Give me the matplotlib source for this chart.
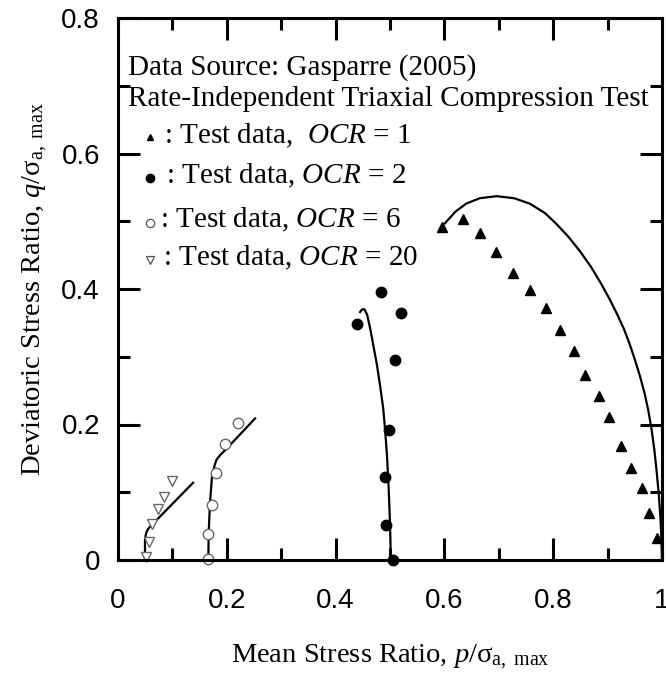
import matplotlib
matplotlib.use("Agg")
import matplotlib.pyplot as plt

plt.rcParams['font.family'] = ['Liberation Serif', 'DejaVu Serif']
plt.rcParams['mathtext.fontset'] = 'custom'
plt.rcParams['mathtext.rm'] = 'Liberation Serif'
plt.rcParams['mathtext.it'] = 'Liberation Serif:italic'
plt.rcParams['mathtext.bf'] = 'Liberation Serif:bold'

# ---- test data ----
ocr1_p = [0.596, 0.634, 0.665, 0.694, 0.727, 0.757, 0.786, 0.813, 0.839, 0.858, 0.884, 0.903, 0.925, 0.943, 0.964, 0.976, 0.991]
ocr1_q = [0.491, 0.503, 0.482, 0.454, 0.423, 0.399, 0.372, 0.339, 0.309, 0.273, 0.242, 0.211, 0.169, 0.136, 0.106, 0.070, 0.032]

ocr2_p = [0.439, 0.484, 0.520, 0.509, 0.498, 0.491, 0.493, 0.506]
ocr2_q = [0.348, 0.396, 0.365, 0.295, 0.192, 0.122, 0.051, 0.000]

ocr6_p = [0.166, 0.166, 0.172, 0.180, 0.197, 0.221]
ocr6_q = [0.002, 0.039, 0.081, 0.129, 0.171, 0.202]

ocr20_p = [0.051, 0.057, 0.062, 0.074, 0.085, 0.099]
ocr20_q = [0.005, 0.027, 0.053, 0.076, 0.093, 0.116]

# ---- model curves ----
m1_p = [0.601, 0.620, 0.640, 0.665, 0.696, 0.728, 0.757, 0.785, 0.806, 0.828, 0.849, 0.870, 0.888, 0.905,
        0.918, 0.930, 0.940, 0.950, 0.960, 0.968, 0.975, 0.981, 0.986, 0.990, 0.994, 0.997, 0.999, 1.000]
m1_q = [0.497, 0.514, 0.526, 0.534, 0.537, 0.534, 0.526, 0.512, 0.496, 0.477, 0.456, 0.432, 0.408, 0.383,
        0.362, 0.341, 0.320, 0.296, 0.270, 0.246, 0.220, 0.192, 0.162, 0.132, 0.098, 0.064, 0.030, 0.000]

m2_p = [0.445, 0.449, 0.453, 0.458, 0.464, 0.470, 0.476, 0.482, 0.4875, 0.491, 0.4945, 0.497, 0.499, 0.5005, 0.5015]
m2_q = [0.366, 0.370, 0.370, 0.362, 0.340, 0.314, 0.288, 0.256, 0.224, 0.192, 0.154, 0.115, 0.077, 0.038, 0.000]

m6_p = [0.166, 0.1667, 0.169, 0.1728, 0.177, 0.181, 0.189, 0.197, 0.252]
m6_q = [0.000, 0.039, 0.084, 0.123, 0.138, 0.148, 0.156, 0.162, 0.209]

m20_p = [0.0496, 0.0496, 0.0510, 0.0527, 0.0555, 0.0588, 0.138]
m20_q = [0.000, 0.0295, 0.037, 0.042, 0.046, 0.049, 0.114]

x_ticks = [0, 0.2, 0.4, 0.6, 0.8, 1]
x_ticklabels = ['0', '0.2', '0.4', '0.6', '0.8', '1']
y_ticks = [0, 0.2, 0.4, 0.6, 0.8]
y_ticklabels = ['0', '0.2', '0.4', '0.6', '0.8']

fig = plt.figure(figsize=(6.66, 6.81), dpi=100)
ax = fig.add_axes([118/666, 1 - 560/681, (662-118)/666, (560-18)/681])

lw = 1.6
ax.plot(m1_p, m1_q, color='black', lw=lw, clip_on=False)
ax.plot(m2_p, m2_q, color='black', lw=lw, clip_on=False)
ax.plot(m6_p, m6_q, color='black', lw=lw, clip_on=False)
ax.plot(m20_p, m20_q, color='black', lw=lw, clip_on=False)

ax.plot(ocr1_p, ocr1_q, linestyle='none', marker='^', ms=6.5, color='black', clip_on=False)
ax.plot(ocr2_p, ocr2_q, linestyle='none', marker='o', ms=7.5, color='black', clip_on=False)
ax.plot(ocr6_p, ocr6_q, linestyle='none', marker='o', ms=7.5, mfc='white', mec='#666666', mew=1.0, clip_on=False)
ax.plot(ocr20_p, ocr20_q, linestyle='none', marker='v', ms=7.5, mfc='white', mec='#666666', mew=1.0, clip_on=False)

ax.set_xlim(0, 1)
ax.set_ylim(0, 0.8)
ax.set_xticks(x_ticks)
ax.set_xticklabels(x_ticklabels)
ax.set_yticks(y_ticks)
ax.set_yticklabels(y_ticklabels)
ax.set_xticks([0.1, 0.3, 0.5, 0.7, 0.9], minor=True)
ax.set_yticks([0.1, 0.3, 0.5, 0.7], minor=True)

for s in ax.spines.values():
    s.set_linewidth(2.2)
ax.tick_params(which='both', direction='in', top=True, right=True, width=2.2)
ax.tick_params(which='major', length=16)
ax.tick_params(which='minor', length=8.5)
ax.tick_params(axis='x', which='major', pad=20)
ax.tick_params(axis='y', which='major', pad=13)
for lab in ax.get_xticklabels() + ax.get_yticklabels():
    lab.set_fontfamily('Liberation Sans')
    lab.set_fontsize(20)

ax.set_xlabel(r'Mean Stress Ratio, $p$/σ$_{\mathrm{a,\ max}}$', fontsize=20.5, labelpad=21)
ax.set_ylabel(r'Deviatoric Stress Ratio, $q$/σ$_{\mathrm{a,\ max}}$', fontsize=20.5, labelpad=8)

# annotation block
def ax_pos(px, py):
    return ((px - 118) / 544, (560 - py) / 542)

tfs = 21
ax.text(*ax_pos(128, 75), 'Data Source: Gasparre (2005)', fontsize=tfs, transform=ax.transAxes, va='baseline')
ax.text(*ax_pos(128, 106), 'Rate-Independent Triaxial Compression Test', fontsize=tfs, transform=ax.transAxes, va='baseline')

leg_rows = [
    (137, 143, 164, r': Test data,  $OCR$ = 1', dict(marker='^', ms=5, color='black')),
    (178, 183, 166, r': Test data, $OCR$ = 2', dict(marker='o', ms=6, color='black')),
    (223, 227, 160, r': Test data, $OCR$ = 6', dict(marker='o', ms=6, mfc='white', mec='#555555', mew=0.9)),
    (260, 265, 163, r': Test data, $OCR$ = 20', dict(marker='v', ms=6, mfc='white', mec='#555555', mew=0.9)),
]
for my, ty, tx, label, mk in leg_rows:
    mx, myy = ax_pos(149.5, my)
    ax.plot([mx], [myy], linestyle='none', transform=ax.transAxes, clip_on=False, **mk)
    ax.text(*ax_pos(tx, ty), label, fontsize=tfs, transform=ax.transAxes, va='baseline')

fig.savefig('out.png', dpi=100)
